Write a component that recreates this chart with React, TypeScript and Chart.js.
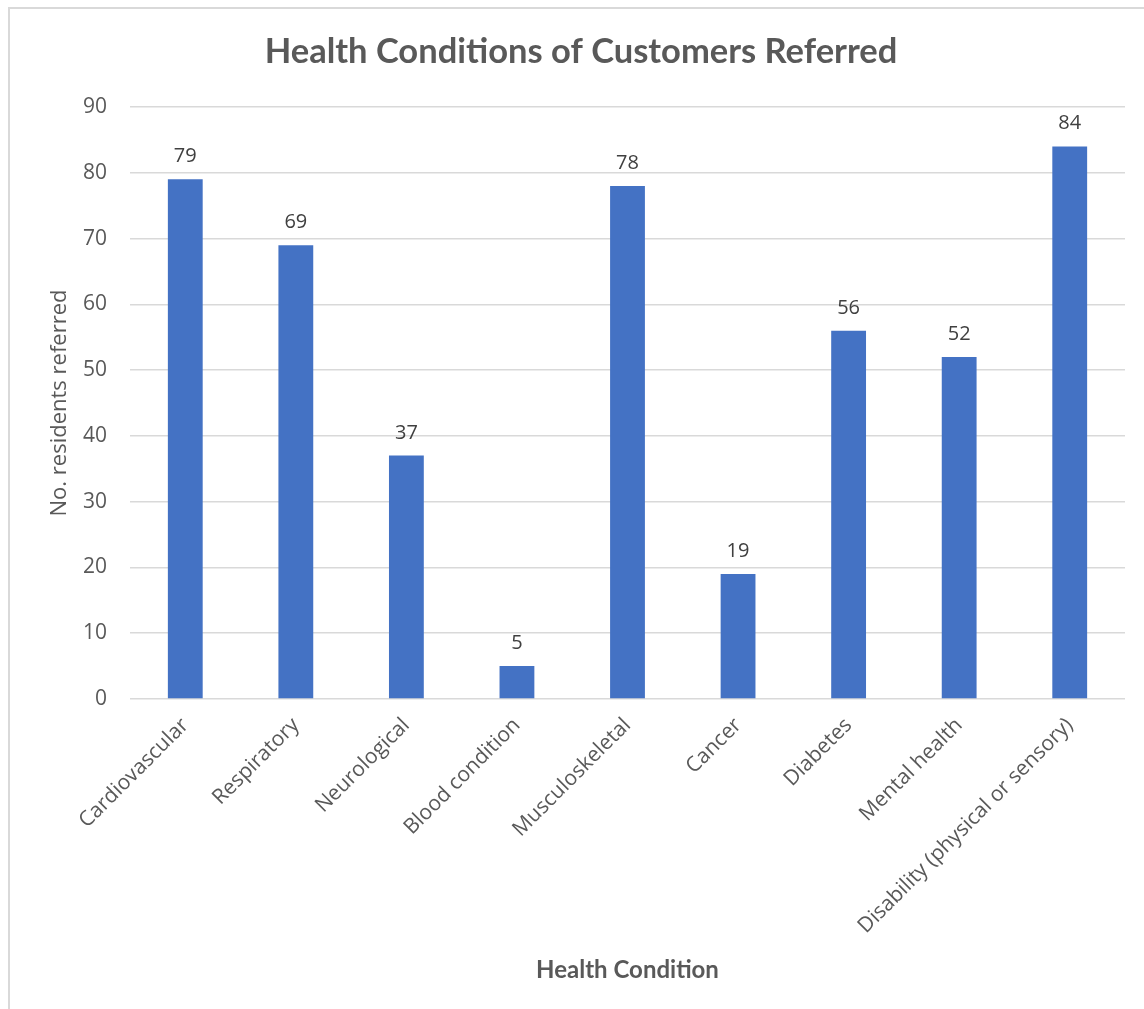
import React, { useEffect, useRef } from "react";
import { Chart, registerables } from "chart.js";

Chart.register(...registerables);

const categories = [
  "Cardiovascular",
  "Respiratory",
  "Neurological",
  "Blood condition",
  "Musculoskeletal",
  "Cancer",
  "Diabetes",
  "Mental health",
  "Disability (physical or sensory)",
];
const residentsReferred = [79, 69, 37, 5, 78, 19, 56, 52, 84];
const yTickValues = [0, 10, 20, 30, 40, 50, 60, 70, 80, 90];
const chartTitle = "Health Conditions of Customers Referred";
const xAxisTitle = "Health Condition";
const yAxisTitle = "No. residents referred";

const BOLD_FONT = "Lato, 'Open Sans', sans-serif";
const FONT = "'Open Sans', Lato, sans-serif";
const TEXT = "#595959";

export default function App() {
  const ref = useRef<HTMLCanvasElement | null>(null);
  useEffect(() => {
    if (!ref.current) return;
    const labelsPlugin = {
      id: "customText",
      afterDatasetsDraw(chart: any) {
        const ctx = chart.ctx;
        const meta = chart.getDatasetMeta(0);
        ctx.save();
        ctx.fillStyle = "#404040";
        ctx.font = `20px ${FONT}`;
        ctx.textAlign = "center";
        ctx.textBaseline = "alphabetic";
        meta.data.forEach((bar: any, i: number) => {
          ctx.fillText(String(residentsReferred[i]), bar.x, bar.y - 17);
        });
        ctx.restore();
      },
      afterDraw(chart: any) {
        const ctx = chart.ctx;
        const ca = chart.chartArea;
        ctx.save();
        ctx.fillStyle = TEXT;
        ctx.textAlign = "center";
        ctx.textBaseline = "alphabetic";
        ctx.font = `bold 34.5px ${BOLD_FONT}`;
        ctx.fillText(chartTitle, 571, 54);
        ctx.font = `bold 24px ${BOLD_FONT}`;
        ctx.textBaseline = "middle";
        ctx.fillText(xAxisTitle, (ca.left + ca.right) / 2, 961);
        ctx.translate(50, (ca.top + ca.bottom) / 2);
        ctx.rotate(-Math.PI / 2);
        ctx.font = `22px ${FONT}`;
        ctx.fillText(yAxisTitle, 0, 0);
        ctx.restore();
      },
    };
    const chart = new Chart(ref.current, {
      type: "bar",
      data: {
        labels: categories,
        datasets: [
          {
            data: residentsReferred,
            backgroundColor: "#4472C4",
            borderWidth: 0,
            categoryPercentage: 1,
            barPercentage: 0.315,
          },
        ],
      },
      options: {
        animation: false,
        responsive: false,
        devicePixelRatio: 1,
        layout: { padding: { top: 98, right: 19, left: 0, bottom: 0 } },
        plugins: {
          legend: { display: false },
          tooltip: { enabled: false },
          title: { display: false },
        },
        scales: {
          x: {
            grid: { display: false },
            border: { display: false },
            ticks: {
              autoSkip: false,
              minRotation: 45,
              maxRotation: 45,
              color: TEXT,
              font: { family: FONT, size: 21 },
              padding: 6,
            },
            afterFit: (s: any) => {
              s.height = 310;
            },
          },
          y: {
            min: 0,
            max: 90,
            afterBuildTicks: (s: any) => {
              s.ticks = yTickValues.map((v) => ({ value: v }));
            },
            grid: { color: "#d9d9d9", lineWidth: 1.5, drawTicks: false },
            border: { display: false },
            ticks: {
              color: TEXT,
              font: { family: FONT, size: 21 },
              padding: 23,
            },
            afterFit: (s: any) => {
              s.width = 120;
            },
          },
        },
      },
      plugins: [labelsPlugin],
    });
    return () => chart.destroy();
  }, []);
  return (
    <div
      style={{
        position: "absolute",
        left: 8,
        top: 7,
        width: 1136,
        height: 1002,
        boxSizing: "border-box",
        borderLeft: "2px solid #d9d9d9",
        borderTop: "2px solid #d9d9d9",
        background: "#fff",
      }}
    >
      <canvas ref={ref} width={1134} height={1000} style={{ display: "block" }} />
    </div>
  );
}
